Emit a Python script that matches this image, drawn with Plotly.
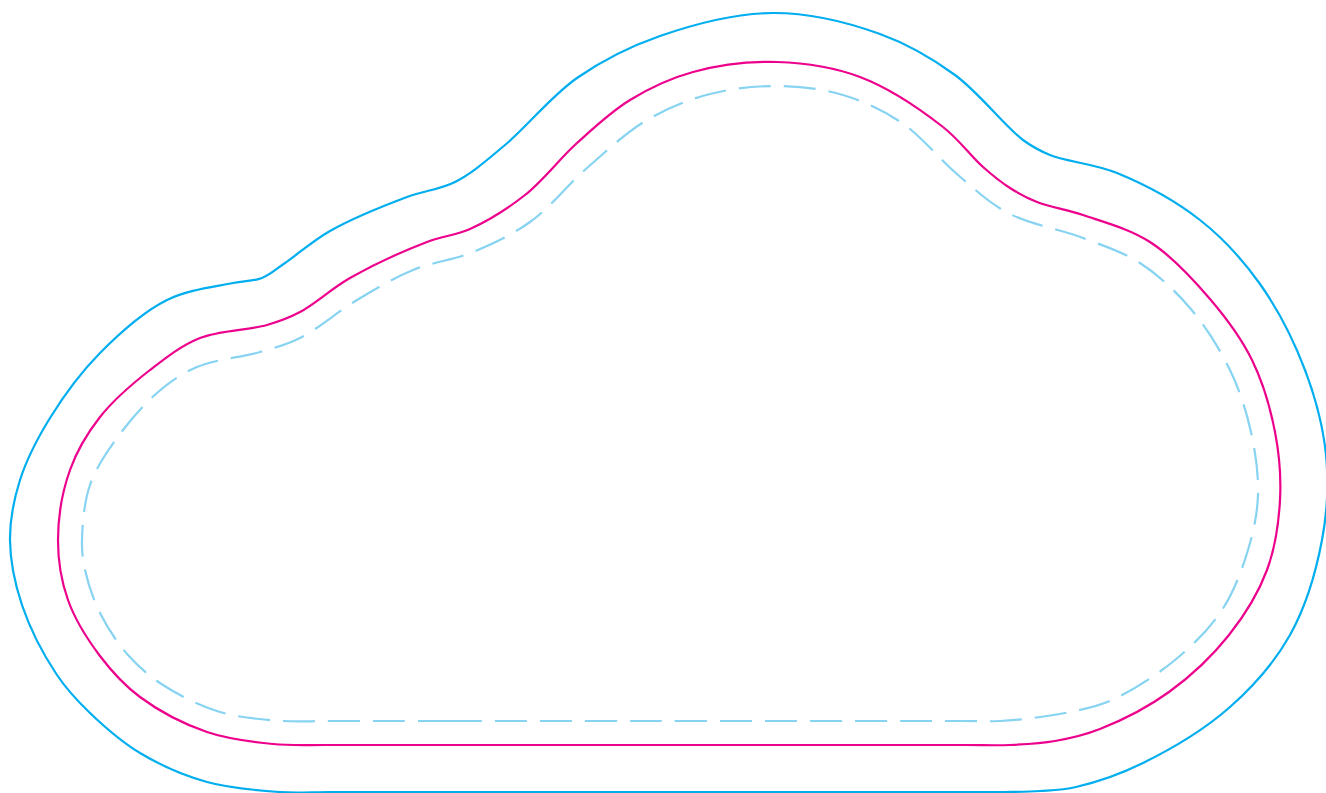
import plotly.graph_objects as go

# Outline points (pixel-like units, y grows downward)
bleed_x = [650, 450, 330, 280, 207, 140, 90, 57, 22, 10, 20, 50, 100, 167, 233, 262, 285, 330, 407, 455, 505, 577, 660, 773, 880, 955, 1023, 1050, 1117, 1200, 1260, 1305, 1326, 1322, 1290, 1230, 1143, 1076, 1040, 1005, 960, 850, 650]
bleed_y = [792, 792, 792, 792, 782, 753, 713, 675, 605, 540, 480, 418, 353, 300, 283, 278, 263, 231, 197, 182, 145, 78, 36, 13, 34, 75, 140, 155, 173, 220, 284, 370, 455, 540, 635, 707, 763, 787, 791, 792, 792, 792, 792]

trim_x = [650, 450, 330, 273, 207, 140, 100, 68, 58, 70, 100, 150, 200, 267, 300, 350, 427, 470, 525, 577, 630, 693, 777, 860, 943, 983, 1010, 1037, 1083, 1150, 1210, 1252, 1275, 1280, 1267, 1229, 1169, 1100, 1055, 1010, 965, 850, 650]
trim_y = [745, 745, 745, 744, 732, 697, 656, 600, 540, 470, 417, 370, 338, 325, 312, 278, 242, 229, 195, 143, 100, 72, 62, 77, 127, 167, 188, 202, 215, 242, 299, 360, 432, 500, 570, 635, 692, 729, 741, 745, 745, 745, 745]

safe_x = [650, 450, 330, 283, 220, 163, 128, 100, 85, 82, 90, 117, 157, 197, 260, 300, 357, 413, 473, 530, 587, 647, 710, 780, 843, 902, 958, 1008, 1083, 1140, 1190, 1230, 1251, 1258, 1248, 1222, 1175, 1110, 1070, 1033, 1000, 960, 850, 650]
safe_y = [721, 721, 721, 721, 712, 685, 655, 613, 570, 540, 485, 438, 393, 367, 352, 338, 300, 270, 252, 222, 168, 120, 94, 86, 95, 123, 175, 213, 238, 263, 308, 370, 432, 495, 550, 610, 660, 701, 712, 718, 721, 721, 721, 721]

fig = go.Figure()
fig.add_trace(go.Scatter(x=bleed_x, y=bleed_y, mode="lines",
                         line=dict(color="#00AEEF", width=2.2, shape="spline", smoothing=1.0,
                                   simplify=False),
                         hoverinfo="skip"))
fig.add_trace(go.Scatter(x=trim_x, y=trim_y, mode="lines",
                         line=dict(color="#EC008C", width=2.2, shape="spline", smoothing=1.0,
                                   simplify=False),
                         hoverinfo="skip"))
fig.add_trace(go.Scatter(x=safe_x, y=safe_y, mode="lines",
                         line=dict(color="#87D3F2", width=2.2, shape="spline", smoothing=1.0,
                                   dash="32px,13px", simplify=False),
                         hoverinfo="skip"))

fig.update_layout(
    width=1326, height=793,
    margin=dict(l=0, r=0, t=0, b=0),
    paper_bgcolor="white", plot_bgcolor="white",
    showlegend=False,
    xaxis=dict(range=[0, 1326], visible=False, fixedrange=True),
    yaxis=dict(range=[793, 0], visible=False, fixedrange=True),
)

fig.write_html("out.html", config={"displayModeBar": False},
               post_script="document.body.style.margin='0';")
